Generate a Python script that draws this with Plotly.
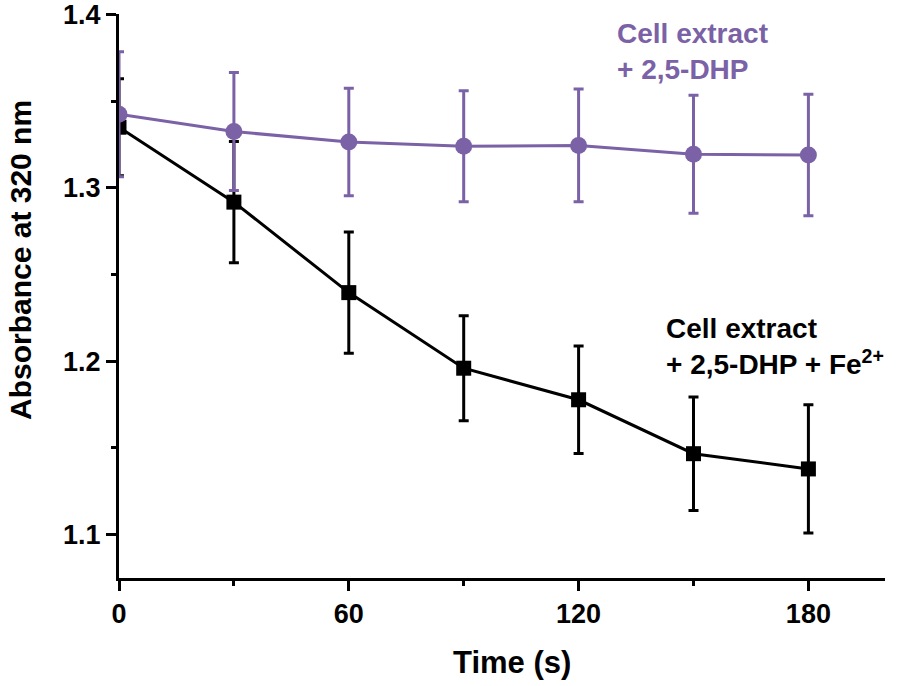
import plotly.graph_objects as go

time_s = [0, 30, 60, 90, 120, 150, 180]

dhp_mean = [1.3425, 1.3325, 1.3265, 1.3240, 1.3245, 1.3194, 1.3190]
dhp_err = [0.036, 0.034, 0.031, 0.032, 0.0325, 0.034, 0.035]

fe_mean = [1.3350, 1.2918, 1.2396, 1.1960, 1.1778, 1.1467, 1.1379]
fe_err = [0.028, 0.035, 0.035, 0.0303, 0.031, 0.0327, 0.037]

x_ticks = [0, 60, 120, 180]
y_ticks = [1.1, 1.2, 1.3, 1.4]
y_tick_labels = ["1.1", "1.2", "1.3", "1.4"]

PURPLE = "#7B61A6"
BLACK = "#000000"
FONT = "Liberation Sans, Arial, sans-serif"

fig = go.Figure()

fig.add_trace(go.Scatter(
    x=time_s, y=fe_mean, mode="lines+markers",
    line=dict(color=BLACK, width=3),
    marker=dict(symbol="square", size=15, color=BLACK),
    error_y=dict(type="data", array=fe_err, color=BLACK, thickness=3, width=5),
    showlegend=False,
))

fig.add_trace(go.Scatter(
    x=time_s, y=dhp_mean, mode="lines+markers",
    line=dict(color=PURPLE, width=3),
    marker=dict(symbol="circle", size=17, color=PURPLE),
    error_y=dict(type="data", array=dhp_err, color=PURPLE, thickness=3, width=5),
    showlegend=False,
))

W, H = 898, 686
L, R, T, B = 119, 13, 14, 108
pw, ph = W - L - R, H - T - B

def px(xp):
    return (xp - L) / pw

def py(yp):
    return (H - B - yp) / ph

fig.add_annotation(
    x=px(615), y=py(16), xref="paper", yref="paper", xanchor="left", yanchor="top",
    text="Cell extract<br>+ 2,5-DHP", showarrow=False, align="left",
    font=dict(family=FONT, size=28, color=PURPLE, weight="bold"),
)
fig.add_annotation(
    x=px(664), y=py(311), xref="paper", yref="paper", xanchor="left", yanchor="top",
    text="Cell extract<br>+ 2,5-DHP + Fe<sup>2+</sup>", showarrow=False, align="left",
    font=dict(family=FONT, size=28, color=BLACK, weight="bold"),
)
fig.add_annotation(
    x=px(20), y=py(260), xref="paper", yref="paper", xanchor="center", yanchor="middle",
    text="Absorbance at 320 nm", showarrow=False, textangle=-90,
    font=dict(family=FONT, size=30, color=BLACK, weight="bold"),
)
fig.add_annotation(
    x=px(512), y=py(662), xref="paper", yref="paper", xanchor="center", yanchor="middle",
    text="Time (s)", showarrow=False,
    font=dict(family=FONT, size=31, color=BLACK, weight="bold"),
)

axis_common = dict(
    showgrid=False, zeroline=False, showline=True, linecolor=BLACK, linewidth=3,
    ticks="outside", ticklen=10, tickwidth=3, tickcolor=BLACK,
    tickfont=dict(family=FONT, size=27, color=BLACK, weight="bold"),
    mirror=False, automargin=False, ticklabeloverflow="allow",
)

fig.update_xaxes(
    range=[0, 200], tickvals=x_ticks, **axis_common,
    minor=dict(ticks="outside", ticklen=5, tickwidth=3, tickcolor=BLACK, dtick=30, tick0=0),
)
fig.update_yaxes(
    range=[1.075, 1.4003], tickvals=y_ticks, ticktext=y_tick_labels, **axis_common,
    minor=dict(ticks="outside", ticklen=5, tickwidth=3, tickcolor=BLACK, dtick=0.05, tick0=1.0),
)

fig.update_layout(
    width=W, height=H,
    margin=dict(l=L, r=R, t=T, b=B),
    plot_bgcolor="white", paper_bgcolor="white",
)

fig.write_html(
    "out.html",
    config={"displayModeBar": False},
    post_script="document.body.style.margin='0px';document.body.style.overflow='hidden';",
)
